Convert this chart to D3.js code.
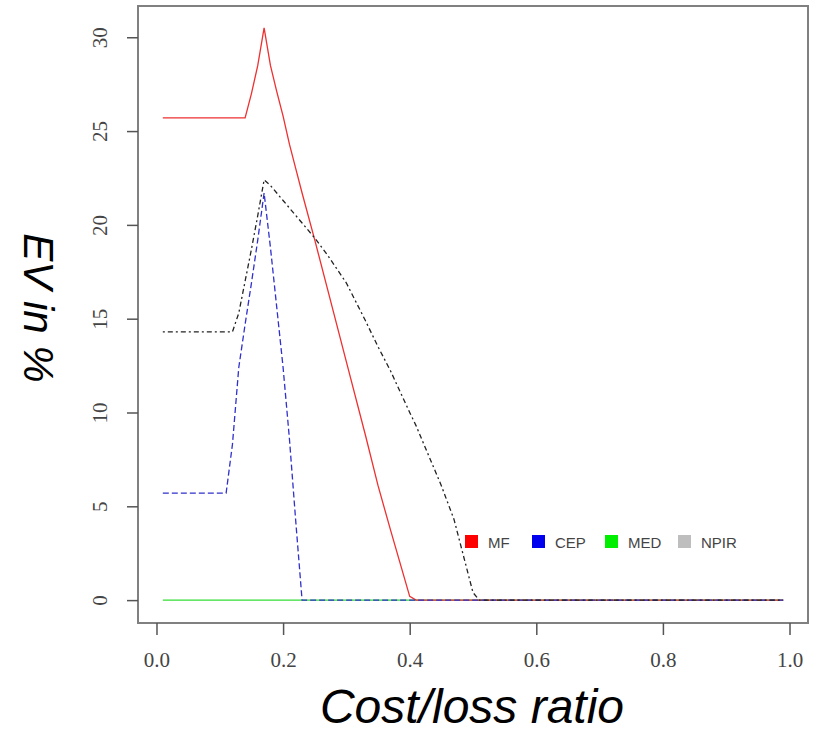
<!DOCTYPE html>
<html>
<head>
  <meta charset="utf-8">
  <title>EV chart</title>
  <script src="https://d3js.org/d3.v7.min.js"></script>
  <style>
    body { margin: 0; background: #fff; }
  </style>
</head>
<body>
<script>
const width = 821;
const height = 738;

// cost/loss ratios where the curves are sampled
const ratio = [0.01, 0.05, 0.10, 0.11, 0.12, 0.13, 0.14, 0.15, 0.16, 0.17, 0.18, 0.19, 0.20,
  0.21, 0.22, 0.23, 0.25, 0.27, 0.30, 0.33, 0.35, 0.37, 0.40, 0.41, 0.43, 0.45, 0.47, 0.50, 0.51,
  0.60, 0.70, 0.80, 0.90, 0.99];

const mf   = [25.7, 25.7, 25.7, 25.7, 25.7, 25.7, 25.7, 27.0, 28.5, 30.5, 28.5, 27.1, 25.8,
  24.3, 23.0, 21.7, 19.2, 16.6, 12.7, 8.8, 6.1, 3.7, 0.2, 0, 0, 0, 0, 0, 0,
  0, 0, 0, 0, 0];
const cep  = [5.7, 5.7, 5.7, 5.7, 8.3, 12.4, 14.7, 16.9, 19.2, 21.7, 18.8, 15.6, 12.4,
  8.6, 4.2, 0, 0, 0, 0, 0, 0, 0, 0, 0, 0, 0, 0, 0, 0,
  0, 0, 0, 0, 0];
const med  = [0, 0, 0, 0, 0, 0, 0, 0, 0, 0, 0, 0, 0,
  0, 0, 0, 0, 0, 0, 0, 0, 0, 0, 0, 0, 0, 0, 0, 0,
  0, 0, 0, 0, 0];
const npir = [14.3, 14.3, 14.3, 14.3, 14.3, 15.3, 17.0, 18.7, 20.5, 22.4, 22.1, 21.7, 21.3,
  20.9, 20.5, 20.1, 19.3, 18.4, 16.9, 14.9, 13.5, 12.2, 10.0, 9.3, 7.7, 6.1, 4.3, 0.4, 0,
  0, 0, 0, 0, 0];

const xTicks = [0, 0.2, 0.4, 0.6, 0.8, 1.0];
const yTicks = [0, 5, 10, 15, 20, 25, 30];
const legendNames = ['MF', 'CEP', 'MED', 'NPIR'];
const legendColors = ['#ff0000', '#0000ee', '#00ee00', '#bebebe'];

const svg = d3.select('body')
  .append('svg')
  .attr('width', width)
  .attr('height', height);

// R style: data range padded by 4% on each side
const x = d3.scaleLinear().domain([-0.0392 + 0.01, 0.99 + 0.0392]).range([138, 808]);
const y = d3.scaleLinear().domain([-1.22, 31.72]).range([623, 5]);

const line = vals => d3.line()
  .x((d, i) => x(ratio[i]))
  .y(d => y(d))(vals);

// series (NPIR last so it sits on top at zero)
svg.append('path').attr('d', line(med))
  .attr('fill', 'none').attr('stroke', '#33dd33').attr('stroke-width', 1.1);
svg.append('path').attr('d', line(mf))
  .attr('fill', 'none').attr('stroke', '#ee3030').attr('stroke-width', 1.3);
svg.append('path').attr('d', line(cep))
  .attr('fill', 'none').attr('stroke', '#3030cc').attr('stroke-width', 1.3)
  .attr('stroke-dasharray', '6,3');
svg.append('path').attr('d', line(npir))
  .attr('fill', 'none').attr('stroke', '#222').attr('stroke-width', 1.3)
  .attr('stroke-dasharray', '2,3,5,3');

// box
svg.append('rect')
  .attr('x', 138).attr('y', 6).attr('width', 670).attr('height', 617)
  .attr('fill', 'none').attr('stroke', '#808080').attr('stroke-width', 2);

// axes
const xAxis = svg.append('g')
  .attr('transform', 'translate(0,623)')
  .call(d3.axisBottom(x).tickValues(xTicks).tickFormat(d3.format('.1f')).tickSize(12).tickPadding(17));
xAxis.select('.domain').remove();

const yAxis = svg.append('g')
  .attr('transform', 'translate(138,0)')
  .call(d3.axisLeft(y).tickValues(yTicks).tickSize(11));
yAxis.select('.domain').remove();

svg.selectAll('.tick line').attr('stroke', '#555').attr('stroke-width', 1.5);
svg.selectAll('.tick text')
  .attr('font-family', 'Liberation Serif, serif')
  .attr('font-size', 21)
  .attr('fill', '#444');

yAxis.selectAll('.tick text')
  .attr('text-anchor', 'middle')
  .attr('x', 0).attr('dy', 0)
  .attr('transform', 'translate(-31,0) rotate(-90)')
  .attr('y', 0);

// axis titles
svg.append('text')
  .attr('x', 472).attr('y', 723)
  .attr('text-anchor', 'middle')
  .attr('font-family', 'Liberation Sans, sans-serif')
  .attr('font-style', 'italic')
  .attr('font-size', 48)
  .text('Cost/loss ratio');

svg.append('text')
  .attr('transform', 'translate(24,308) rotate(90)')
  .attr('text-anchor', 'middle')
  .attr('font-family', 'Liberation Sans, sans-serif')
  .attr('font-style', 'italic')
  .attr('font-size', 42)
  .text('EV in %');

// legend
const legX = [465, 532, 605, 678];
const leg = svg.append('g');
legendNames.forEach((name, i) => {
  leg.append('rect')
    .attr('x', legX[i]).attr('y', 535).attr('width', 13).attr('height', 13)
    .attr('fill', legendColors[i]);
  leg.append('text')
    .attr('x', legX[i] + 23).attr('y', 548)
    .attr('font-family', 'Liberation Sans, sans-serif')
    .attr('font-size', 15)
    .attr('fill', '#444')
    .text(name);
});
</script>
</body>
</html>
